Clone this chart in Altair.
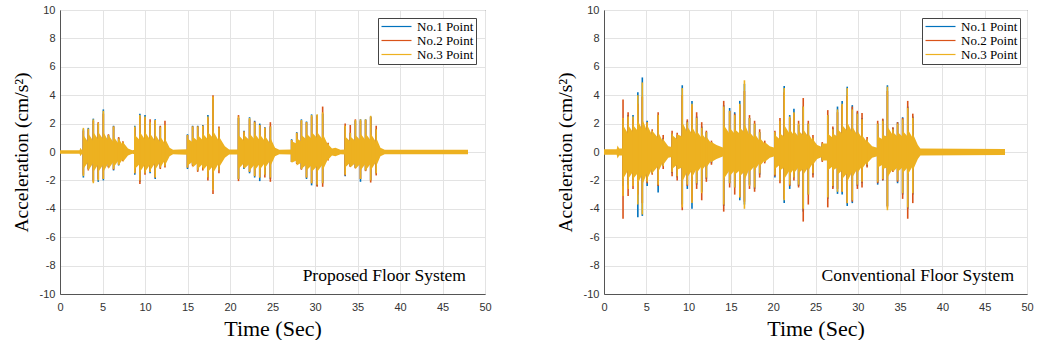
import altair as alt
import pandas as pd

SERIES = ["No.1 Point", "No.2 Point", "No.3 Point"]
COLORS = ["#0072BD", "#D95319", "#EDB120"]
SERIF = "Times New Roman, Liberation Serif, serif"

# ---------------- Proposed floor system (left) ----------------
L_T = [2.75, 3.33, 3.92, 4.5, 5.1, 5.7, 6.3, 6.9, 7.4,
       8.8, 9.4, 10.0, 10.6, 11.2, 11.8, 12.35,
       15.0, 15.6, 16.2, 16.8, 17.4, 18.0, 18.7,
       21.0, 21.65, 22.3, 22.9, 23.5, 24.1, 24.75,
       27.25, 27.85, 28.4, 29.0, 29.6, 30.25, 30.9, 31.55,
       33.55, 34.15, 34.75, 35.35, 35.95, 36.55, 37.2]
L_UP1 = [1.6, 1.7, 2.35, 2.0, 3.0, 1.2, 1.85, 1.0, 0.7,
         1.85, 2.7, 2.6, 2.0, 2.3, 1.8, 1.9,
         1.25, 1.85, 1.85, 1.9, 2.6, 3.7, 1.7,
         2.4, 1.5, 2.45, 2.2, 2.0, 1.75, 1.8,
         0.9, 1.4, 2.3, 2.15, 2.65, 2.6, 2.7, 0.6,
         1.8, 1.35, 2.2, 2.3, 2.3, 2.5, 1.6]
L_UP2 = [1.5, 1.6, 2.2, 2.1, 2.7, 1.25, 1.8, 1.05, 0.75,
         1.7, 2.5, 2.4, 2.3, 2.2, 1.85, 2.2,
         1.2, 1.8, 1.8, 1.85, 2.4, 4.0, 1.8,
         2.6, 1.45, 2.3, 2.15, 1.9, 1.7, 2.1,
         0.85, 1.35, 2.2, 2.1, 2.5, 2.55, 3.2, 0.65,
         2.0, 1.9, 2.3, 2.2, 2.25, 2.45, 1.85]
L_UP3 = [1.7, 1.65, 2.3, 2.05, 2.9, 1.2, 1.8, 0.95, 0.7,
         1.8, 2.6, 2.5, 2.1, 2.25, 1.75, 1.9,
         1.2, 1.8, 1.8, 1.85, 2.5, 3.9, 1.7,
         2.5, 1.45, 2.4, 2.1, 1.9, 1.7, 1.8,
         0.85, 1.35, 2.25, 2.1, 2.6, 2.65, 2.8, 0.6,
         1.85, 1.35, 2.25, 2.3, 2.3, 2.55, 1.6]
L_DN1 = [-1.8, -1.2, -2.0, -2.1, -2.0, -1.05, -1.3, -0.95, -0.6,
         -1.6, -2.1, -1.5, -1.5, -1.9, -1.1, -1.0,
         -1.2, -0.9, -1.3, -1.15, -1.8, -2.6, -1.3,
         -1.9, -1.2, -1.5, -1.8, -2.05, -1.6, -1.9,
         -0.7, -0.8, -1.2, -1.9, -2.35, -2.4, -2.2, -0.55,
         -1.7, -1.0, -1.1, -2.1, -1.3, -2.0, -1.5]
L_DN2 = [-1.6, -1.3, -2.1, -1.9, -1.9, -1.1, -1.25, -0.9, -0.65,
         -1.5, -2.25, -1.6, -1.4, -1.8, -1.2, -1.1,
         -1.1, -1.0, -1.4, -1.3, -2.0, -2.95, -1.5,
         -2.05, -1.1, -1.4, -1.7, -1.8, -1.8, -2.1,
         -0.7, -0.85, -1.25, -1.8, -2.2, -2.45, -2.45, -0.6,
         -1.65, -1.05, -1.15, -1.9, -1.35, -2.15, -1.65]
L_DN3 = [-1.7, -1.2, -2.2, -2.0, -1.9, -1.0, -1.2, -0.9, -0.6,
         -1.5, -2.0, -1.5, -1.4, -1.8, -1.1, -1.0,
         -1.1, -0.9, -1.3, -1.1, -1.8, -2.7, -1.3,
         -1.9, -1.1, -1.4, -1.7, -1.8, -1.6, -1.8,
         -0.7, -0.8, -1.2, -1.8, -2.2, -2.3, -2.2, -0.55,
         -1.6, -1.0, -1.1, -1.9, -1.3, -2.0, -1.5]
L_ENV_T = [0.0, 2.3, 2.4, 2.55, 2.72,
           2.75, 3.31, 3.33, 3.9, 3.92, 4.48, 4.5, 5.08, 5.1, 5.68, 5.7, 6.28, 6.3,
           6.88, 6.9, 7.38, 7.4, 8.0, 8.5, 8.77,
           8.8, 9.38, 9.4, 9.98, 10.0, 10.58, 10.6, 11.18, 11.2, 11.78, 11.8,
           12.33, 12.35, 12.9, 13.3, 14.0, 14.97,
           15.0, 15.58, 15.6, 16.18, 16.2, 16.78, 16.8, 17.38, 17.4, 17.98, 18.0,
           18.68, 18.7, 19.4, 19.9, 20.97,
           21.0, 21.63, 21.65, 22.28, 22.3, 22.88, 22.9, 23.48, 23.5, 24.08, 24.1,
           24.73, 24.75, 25.3, 25.8, 27.22,
           27.25, 27.83, 27.85, 28.38, 28.4, 28.98, 29.0, 29.58, 29.6, 30.23, 30.25,
           30.88, 30.9, 31.53, 31.55, 32.0, 32.4, 33.0, 33.52,
           33.55, 34.13, 34.15, 34.73, 34.75, 35.33, 35.35, 35.93, 35.95, 36.53, 36.55,
           37.18, 37.2, 37.7, 38.2, 48.0]
L_ENV_A = [0.12, 0.12, 0.3, 0.15, 0.15,
           1.2, 0.7, 1.3, 0.8, 1.4, 0.9, 1.4, 0.9, 1.4, 0.8, 1.2, 0.7, 1.1,
           0.6, 0.95, 0.5, 0.7, 0.25, 0.12, 0.15,
           1.2, 0.85, 1.4, 0.9, 1.4, 0.9, 1.3, 0.8, 1.25, 0.7, 1.1,
           0.6, 0.95, 0.3, 0.15, 0.18, 0.2,
           0.95, 0.7, 1.1, 0.8, 1.2, 0.85, 1.3, 0.9, 1.4, 1.0, 1.5,
           0.8, 1.1, 0.4, 0.18, 0.18,
           1.2, 0.8, 1.2, 0.85, 1.3, 0.9, 1.3, 0.85, 1.25, 0.8, 1.15,
           0.6, 1.0, 0.3, 0.15, 0.18,
           0.75, 0.6, 0.95, 0.75, 1.2, 0.9, 1.3, 0.95, 1.4, 1.0, 1.4,
           0.9, 1.3, 0.5, 0.55, 0.25, 0.3, 0.15, 0.18,
           1.1, 0.75, 1.1, 0.8, 1.2, 0.85, 1.3, 0.85, 1.3, 0.85, 1.3,
           0.7, 1.0, 0.3, 0.15, 0.15]

# ---------------- Conventional floor system (right) ----------------
C_T = [2.25, 2.85, 3.43, 4.0, 4.53, 5.1, 5.7, 6.4, 7.0,
       8.05, 8.65, 9.25, 9.85, 10.4, 10.95, 11.55, 12.1, 12.7,
       14.15, 14.85, 15.45, 16.05, 16.6, 17.2, 17.8, 18.4, 19.0,
       20.2, 20.8, 21.3, 21.95, 22.45, 23.0, 23.55, 24.15, 24.7,
       25.8, 26.45, 27.05, 27.6, 28.15, 28.75, 29.35, 29.95, 30.5, 31.1,
       32.35, 32.95, 33.5, 34.15, 34.7, 35.3, 35.9, 36.5]
C_UP1 = [2.3, 2.6, 2.6, 4.2, 5.25, 2.2, 1.4, 2.6, 1.0,
         1.3, 1.2, 4.7, 2.2, 3.6, 2.5, 1.8, 1.4, 0.7,
         3.3, 3.1, 2.8, 3.6, 4.8, 2.4, 2.0, 1.4, 0.6,
         1.4, 2.2, 4.65, 2.6, 3.05, 1.9, 3.2, 2.0, 1.0,
         0.6, 2.6, 1.7, 3.2, 3.6, 4.6, 3.3, 2.8, 2.4, 0.9,
         2.0, 2.3, 4.7, 1.7, 2.1, 2.45, 3.2, 2.5]
C_UP2 = [3.7, 2.8, 2.3, 3.4, 3.9, 2.1, 1.6, 2.8, 1.2,
         1.5, 1.35, 4.0, 2.3, 3.3, 2.8, 2.1, 1.5, 0.8,
         3.6, 2.9, 2.7, 3.3, 4.3, 2.6, 2.2, 1.6, 0.8,
         1.5, 2.4, 4.2, 2.4, 2.7, 2.2, 3.8, 2.2, 1.2,
         0.7, 2.95, 1.8, 2.8, 3.3, 4.0, 3.2, 2.9, 2.75, 1.05,
         2.2, 2.35, 4.3, 1.75, 2.1, 2.4, 3.6, 2.7]
C_UP3 = [2.4, 2.5, 2.5, 4.0, 4.9, 2.1, 1.5, 2.6, 0.9,
         1.3, 1.2, 4.5, 2.1, 3.4, 2.4, 1.7, 1.4, 0.7,
         3.2, 2.9, 2.6, 3.4, 5.05, 2.4, 2.0, 1.4, 0.6,
         1.4, 2.2, 4.5, 2.5, 2.8, 2.0, 3.2, 2.0, 1.0,
         0.6, 2.6, 1.6, 3.0, 3.4, 4.5, 3.0, 2.7, 2.3, 0.9,
         2.0, 2.2, 4.6, 1.6, 2.0, 2.3, 3.1, 2.4]
C_DN1 = [-2.4, -2.3, -2.0, -4.6, -4.5, -2.4, -1.5, -2.85, -1.0,
         -1.5, -1.8, -3.7, -2.6, -4.0, -2.3, -2.8, -1.9, -0.8,
         -3.8, -2.2, -2.5, -3.4, -3.7, -2.3, -2.6, -1.6, -0.7,
         -1.8, -2.0, -3.6, -2.6, -1.8, -2.4, -4.2, -3.0, -1.6,
         -0.6, -3.3, -2.5, -2.95, -3.0, -3.8, -3.6, -2.4, -2.2, -1.0,
         -2.3, -2.0, -3.8, -1.3, -2.2, -3.0, -4.0, -3.0]
C_DN2 = [-4.7, -3.1, -2.6, -3.0, -3.6, -2.2, -1.6, -2.4, -1.2,
         -1.7, -2.0, -4.1, -2.4, -3.5, -2.6, -3.4, -2.1, -0.9,
         -4.2, -2.5, -3.0, -3.2, -3.5, -2.6, -2.8, -1.8, -0.8,
         -1.7, -2.2, -3.3, -2.4, -2.0, -2.5, -4.9, -3.7, -1.8,
         -0.7, -3.9, -2.6, -2.6, -2.8, -3.6, -3.5, -2.6, -2.5, -1.1,
         -2.2, -2.0, -3.9, -1.4, -2.1, -3.3, -4.7, -3.6]
C_DN3 = [-3.1, -2.6, -2.4, -3.7, -4.4, -2.1, -1.5, -2.3, -1.0,
         -1.4, -1.7, -3.9, -2.3, -3.6, -2.2, -2.9, -1.8, -0.7,
         -3.7, -2.2, -2.5, -3.2, -4.0, -2.4, -2.5, -1.5, -0.7,
         -1.6, -2.0, -3.4, -2.3, -1.8, -2.3, -4.0, -3.0, -1.5,
         -0.6, -3.2, -2.4, -2.8, -2.8, -3.6, -3.4, -2.3, -2.1, -0.9,
         -2.1, -1.9, -4.1, -1.3, -2.0, -2.9, -3.9, -2.9]
C_ENV_T = [0.0, 1.5, 1.6, 1.8, 2.22,
           2.25, 2.83, 2.85, 3.41, 3.43, 3.98, 4.0, 4.51, 4.53, 5.08, 5.1, 5.68, 5.7,
           6.38, 6.4, 6.98, 7.0, 7.6, 8.02,
           8.05, 8.63, 8.65, 9.23, 9.25, 9.83, 9.85, 10.38, 10.4, 10.93, 10.95,
           11.53, 11.55, 12.08, 12.1, 12.68, 12.7, 13.3, 14.12,
           14.15, 14.83, 14.85, 15.43, 15.45, 16.03, 16.05, 16.58, 16.6, 17.18, 17.2,
           17.78, 17.8, 18.38, 18.4, 18.98, 19.0, 19.6, 20.17,
           20.2, 20.78, 20.8, 21.28, 21.3, 21.93, 21.95, 22.43, 22.45, 22.98, 23.0,
           23.53, 23.55, 24.13, 24.15, 24.68, 24.7, 25.2, 25.77,
           25.8, 26.43, 26.45, 27.03, 27.05, 27.58, 27.6, 28.13, 28.15, 28.73, 28.75,
           29.33, 29.35, 29.93, 29.95, 30.48, 30.5, 31.08, 31.1, 31.7, 32.32,
           32.35, 32.93, 32.95, 33.48, 33.5, 34.13, 34.15, 34.68, 34.7, 35.28, 35.3,
           35.88, 35.9, 36.48, 36.5, 37.1, 37.4, 47.4]
C_ENV_A = [0.2, 0.2, 0.45, 0.25, 0.25,
           1.9, 1.3, 1.9, 1.4, 1.9, 1.5, 2.2, 1.6, 2.3, 1.5, 1.9, 1.2, 1.5,
           1.0, 1.4, 0.7, 0.9, 0.4, 0.35,
           1.2, 0.9, 1.25, 1.1, 2.1, 1.4, 1.8, 1.3, 1.8, 1.2, 1.5,
           1.0, 1.3, 0.9, 1.1, 0.6, 0.7, 0.5, 0.3,
           1.9, 1.3, 1.7, 1.3, 1.6, 1.3, 1.7, 1.4, 2.0, 1.2, 1.4,
           1.0, 1.3, 0.8, 1.0, 0.6, 0.7, 0.4, 0.3,
           1.2, 0.9, 1.3, 1.1, 1.9, 1.3, 1.6, 1.2, 1.5, 1.1, 1.5,
           1.2, 1.6, 1.1, 1.3, 0.8, 0.9, 0.5, 0.35,
           0.6, 0.6, 1.3, 1.0, 1.3, 1.1, 1.6, 1.3, 1.9, 1.5, 2.1,
           1.4, 1.8, 1.2, 1.5, 1.0, 1.2, 0.7, 0.8, 0.4, 0.3,
           1.1, 0.9, 1.2, 1.1, 1.8, 1.2, 1.4, 1.1, 1.4, 1.1, 1.5,
           1.1, 1.6, 1.0, 1.3, 0.5, 0.25, 0.22]


def panel(T, UP, DN, ET, EA, label, width, label_x, legend_x):
    rows = []
    for s, name in enumerate(SERIES):
        for i, t in enumerate(T):
            rows.append({"t": t, "hi": UP[s][i], "lo": DN[s][i], "series": name})
    spikes = pd.DataFrame(rows)
    env = pd.DataFrame({"t": ET, "hi": EA, "lo": [-a for a in EA]})

    x = alt.X("t:Q", scale=alt.Scale(domain=[0, 50], nice=False),
              axis=alt.Axis(values=list(range(0, 51, 5)), title="Time (Sec)",
                            labelFlush=False, labelExpr="'' + datum.value"))
    y = alt.Y("hi:Q", scale=alt.Scale(domain=[-10, 10], nice=False),
              axis=alt.Axis(values=list(range(-10, 11, 2)), title="Acceleration (cm/s²)",
                            labelExpr="'' + datum.value"))
    color = alt.Color("series:N",
                      scale=alt.Scale(domain=SERIES, range=COLORS),
                      legend=alt.Legend(title=None, orient="none",
                                        legendX=legend_x, legendY=8,
                                        symbolType="M-3,0H3", symbolSize=100,
                                        symbolStrokeWidth=1.2, symbolOffset=10,
                                        labelFont=SERIF, labelFontSize=13,
                                        labelColor="black", labelOffset=14,
                                        strokeColor="#444", fillColor="white",
                                        padding=2, rowPadding=0, cornerRadius=0))

    base = alt.Chart(spikes)
    low = base.transform_filter(alt.datum.series != SERIES[2]).mark_rule(strokeWidth=1.6).encode(
        x=x, y=y, y2="lo:Q", color=color)
    area = alt.Chart(env).mark_area(color=COLORS[2], opacity=1).encode(
        x=x, y=y, y2="lo:Q")
    top = base.transform_filter(alt.datum.series == SERIES[2]).mark_rule(strokeWidth=1.6).encode(
        x=x, y=y, y2="lo:Q", color=color)
    text = alt.Chart(pd.DataFrame({"label": [label]})).mark_text(
        align="right", baseline="alphabetic", font=SERIF, fontSize=17.5,
        color="black").encode(x=alt.value(label_x), y=alt.value(271), text="label:N")
    return alt.layer(low, area, top, text).properties(width=width, height=284)


left = panel(L_T, [L_UP1, L_UP2, L_UP3], [L_DN1, L_DN2, L_DN3], L_ENV_T, L_ENV_A,
             "Proposed Floor System", 425, 406, 318)
right = panel(C_T, [C_UP1, C_UP2, C_UP3], [C_DN1, C_DN2, C_DN3], C_ENV_T, C_ENV_A,
              "Conventional Floor System", 423, 410, 318)

chart = alt.hconcat(left, right, spacing=62).resolve_scale(
    color="independent").resolve_legend(color="independent").properties(
    padding={"left": 10, "top": 3, "right": 2, "bottom": 0},
    background="white",
).configure_view(stroke="#555", strokeWidth=1).configure_axis(
    domainColor="#555", gridColor="#E3E3E3", ticks=False,
    labelFont="Liberation Sans", labelFontSize=11, labelColor="#333",
    titleFont=SERIF, titleFontWeight="normal", titleColor="black",
).configure_axisX(labelPadding=7, titleFontSize=22, titlePadding=6
).configure_axisY(labelPadding=5, titleFontSize=19.5, titlePadding=8)

chart.save("out.html", embed_options={"renderer": "svg", "actions": False})
